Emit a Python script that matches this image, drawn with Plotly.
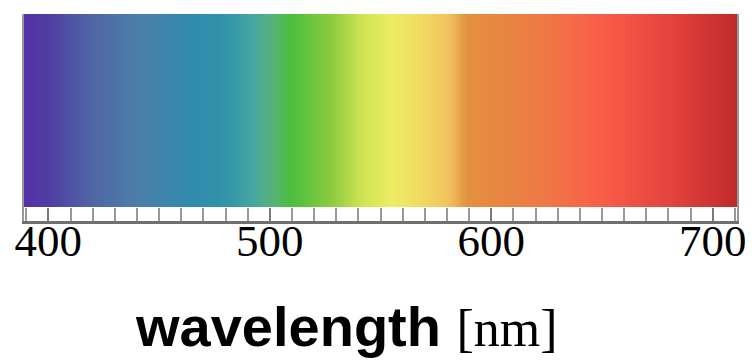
import numpy as np
import plotly.graph_objects as go

# Colour stops of the visible spectrum (wavelength nm -> colour)
stop_wavelengths = [389, 400, 420, 440, 465, 482, 492, 500, 510, 528, 542, 555, 570, 581, 589, 620, 642, 655, 685, 711]
stop_colors = ["#5530a8", "#4f3ea2", "#5066a6", "#4c7ea8", "#2f8aac", "#3495a9", "#45a6a4", "#55b07e", "#4bbe3c",
               "#8ccb40", "#cfe452", "#eeec62", "#f0d862", "#efc25e", "#e2913f", "#ee7b44", "#f86548", "#f65847",
               "#e0403b", "#c02a2a"]

tick_labels = [400, 500, 600, 700]
minor_step = 10
axis_title = "<b>wavelength</b> <span style='font-family:Liberation Serif;font-weight:normal;font-size:52px'>[nm]</span>"

wl_min, wl_max = stop_wavelengths[0], stop_wavelengths[-1]
x_cells = np.arange(wl_min + 0.5, wl_max, 1.0)
colorscale = [[(w - wl_min) / (wl_max - wl_min), c] for w, c in zip(stop_wavelengths, stop_colors)]

fig = go.Figure(go.Heatmap(
    x=x_cells, y=[0.5], z=[x_cells], zmin=wl_min, zmax=wl_max,
    colorscale=colorscale, showscale=False, hoverinfo="skip"))

# page body adds an 8px offset, so the figure is 745x354
fig.update_layout(
    width=745, height=354,
    margin=dict(l=16, r=16, t=6, b=141, autoexpand=False),
    paper_bgcolor="white", plot_bgcolor="white",
    showlegend=False,
    xaxis=dict(
        range=[wl_min, wl_max], tickvals=tick_labels, ticktext=[str(t) for t in tick_labels],
        ticks="inside", ticklen=13, tickwidth=2, tickcolor="#7a7a7a",
        minor=dict(dtick=minor_step, tick0=400, ticks="inside", ticklen=13, tickwidth=2, tickcolor="#9a9a9a"),
        showgrid=False, zeroline=False, automargin=False,
        showline=True, linecolor="#707070", linewidth=3, mirror=False,
        tickfont=dict(family="Liberation Serif", size=45, color="black"),
        ticklabelstandoff=-22,
    ),
    yaxis=dict(range=[-0.075, 1], showticklabels=False, showgrid=False, zeroline=False, automargin=False,
               showline=True, linecolor="#9a9a9a", linewidth=2, mirror=True, ticks=""),
    annotations=[dict(text=axis_title, xref="paper", yref="paper", x=0.453, y=-0.51,
                      xanchor="center", yanchor="middle", showarrow=False,
                      font=dict(family="Liberation Sans", size=56, color="black"))],
)

fig.write_html("out.html")
